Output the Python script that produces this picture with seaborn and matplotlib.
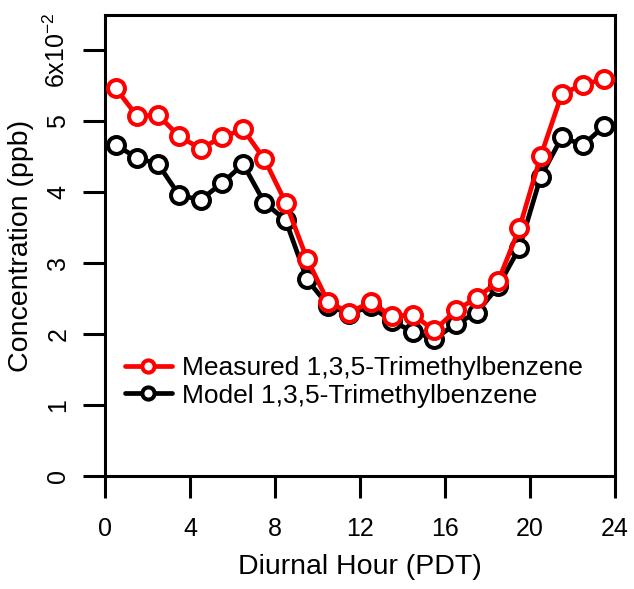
import matplotlib
matplotlib.use("Agg")
import matplotlib.pyplot as plt
import seaborn as sns
import pandas as pd

hours = [0.5, 1.5, 2.5, 3.5, 4.5, 5.5, 6.5, 7.5, 8.5, 9.5, 10.5, 11.5,
         12.5, 13.5, 14.5, 15.5, 16.5, 17.5, 18.5, 19.5, 20.5, 21.5, 22.5, 23.5]
measured = [5.46, 5.07, 5.08, 4.78, 4.61, 4.77, 4.88, 4.46, 3.85, 3.06, 2.45, 2.30,
            2.45, 2.25, 2.27, 2.05, 2.33, 2.51, 2.74, 3.49, 4.50, 5.38, 5.51, 5.59]
model = [4.66, 4.48, 4.39, 3.95, 3.89, 4.12, 4.39, 3.85, 3.60, 2.77, 2.40, 2.28,
         2.39, 2.18, 2.03, 1.93, 2.14, 2.30, 2.67, 3.21, 4.21, 4.77, 4.66, 4.93]
x_ticks = [0, 4, 8, 12, 16, 20, 24]
y_ticks = [0, 1, 2, 3, 4, 5, 6]
y_tick_labels = ["0", "1", "2", "3", "4", "5", "6x10$^{-2}$"]
label_measured = "Measured 1,3,5-Trimethylbenzene"
label_model = "Model 1,3,5-Trimethylbenzene"

sns.set_style("white")
plt.rcParams["font.family"] = ["Liberation Sans", "DejaVu Sans"]
plt.rcParams["mathtext.fontset"] = "custom"
plt.rcParams["mathtext.rm"] = "Liberation Sans"
plt.rcParams["mathtext.it"] = "Liberation Sans:italic"
plt.rcParams["mathtext.bf"] = "Liberation Sans:bold"
plt.rcParams["text.color"] = "black"

df = pd.DataFrame({"hour": hours, "measured": measured, "model": model})

W, H = 634, 589
fig = plt.figure(figsize=(W / 100, H / 100), dpi=100)
ax = fig.add_axes([105 / W, 1 - 476 / H, 510 / W, 461 / H])

ms, mew, lw = 12.2, 2.9, 3.4
sns.lineplot(data=df, x="hour", y="model", ax=ax, color="black", linewidth=lw,
             marker="o", markersize=ms, markeredgewidth=mew,
             markeredgecolor="black", markerfacecolor="white",
             label=label_model, zorder=2)
sns.lineplot(data=df, x="hour", y="measured", ax=ax, color="#ff0000", linewidth=lw,
             marker="o", markersize=ms, markeredgewidth=mew,
             markeredgecolor="#ff0000", markerfacecolor="white",
             label=label_measured, zorder=3)

ax.set_xlim(0, 24)
ax.set_ylim(0, 6.49)
ax.set_xticks(x_ticks)
ax.set_xticklabels([str(t) for t in x_ticks])
ax.set_yticks(y_ticks)
ax.set_yticklabels(y_tick_labels)
for lab in ax.get_yticklabels():
    lab.set_rotation(90)
    lab.set_va("center")

for s in ax.spines.values():
    s.set_linewidth(2.2)
    s.set_color("black")
    s.set_visible(True)

ax.tick_params(axis="both", direction="out", length=15.5, width=2.2,
               color="black", labelsize=18, labelcolor="black",
               bottom=True, left=True, top=False, right=False)
ax.tick_params(axis="x", pad=14)
ax.tick_params(axis="y", pad=9.5)

ax.set_xlabel("Diurnal Hour (PDT)", fontsize=20.5, color="black")
ax.set_ylabel("Concentration (ppb)", fontsize=20.5, color="black")
ax.xaxis.set_label_coords(0.5, -0.170)
ax.yaxis.set_label_coords(-0.139, 0.5)

handles, labels = ax.get_legend_handles_labels()
order = [labels.index(label_measured), labels.index(label_model)]
leg = ax.legend([handles[i] for i in order], [labels[i] for i in order],
                loc="center left", bbox_to_anchor=(0.039, 0.204),
                frameon=False, fontsize=19, handlelength=1.78,
                handletextpad=0.38, labelspacing=0.12, borderpad=0,
                borderaxespad=0, markerscale=0.72, labelcolor="black")

fig.savefig("out.png", dpi=100)
